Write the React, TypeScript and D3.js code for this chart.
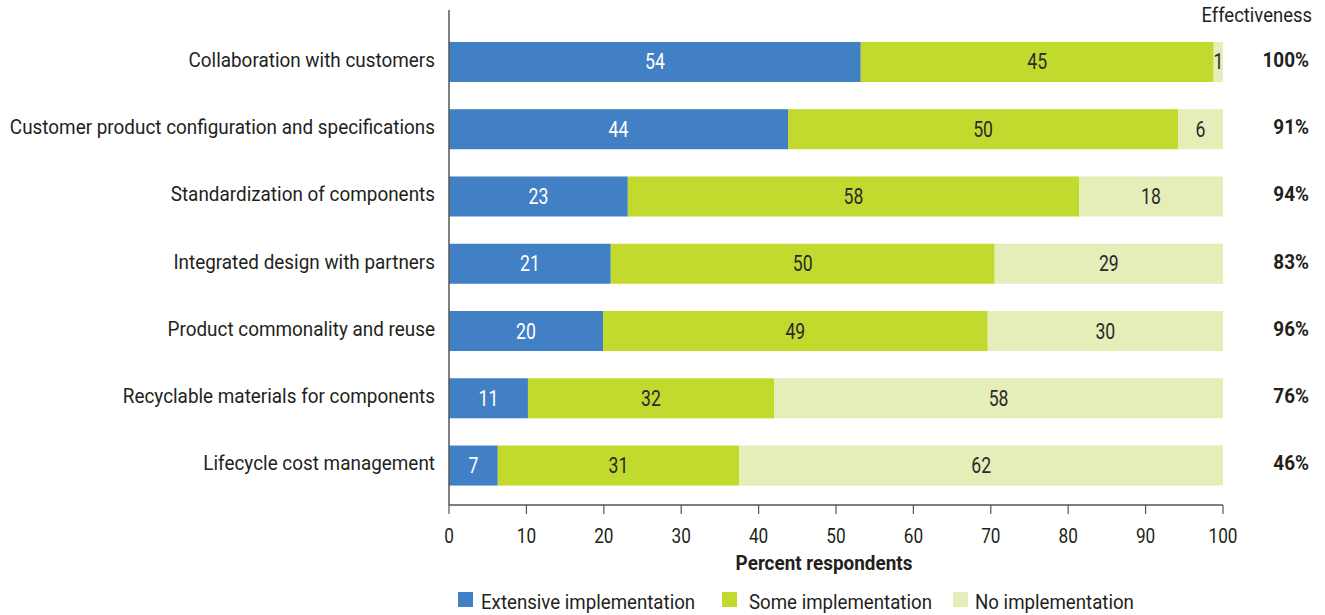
import React from "react";
import * as d3 from "d3";

const categories = [
  "Collaboration with customers",
  "Customer product configuration and specifications",
  "Standardization of components",
  "Integrated design with partners",
  "Product commonality and reuse",
  "Recyclable materials for components",
  "Lifecycle cost management",
];
const extensive = [53.2, 43.8, 23.1, 20.9, 19.9, 10.2, 6.3];
const some = [45.6, 50.4, 58.3, 49.6, 49.7, 31.8, 31.2];
const none = [1.2, 5.8, 18.6, 29.5, 30.4, 58.0, 62.5];
const extensiveLabels = ["54", "44", "23", "21", "20", "11", "7"];
const someLabels = ["45", "50", "58", "50", "49", "32", "31"];
const noneLabels = ["1", "6", "18", "29", "30", "58", "62"];
const effectiveness = ["100%", "91%", "94%", "83%", "96%", "76%", "46%"];
const xTicks = [0, 10, 20, 30, 40, 50, 60, 70, 80, 90, 100];
const seriesNames = ["Extensive implementation", "Some implementation", "No implementation"];

const colors = ["#4180C4", "#C2D92E", "#E5EDB8"];
const textColors = ["#ffffff", "#2a2a2a", "#2a2a2a"];
const FONT = "Roboto, 'Liberation Sans', sans-serif";
const INK = "#231f20";

type TProps = {
  x: number; y: number; sx: number; size: number; anchor?: "start" | "middle" | "end";
  bold?: boolean; fill?: string; children: React.ReactNode;
};
function T({ x, y, sx, size, anchor = "start", bold, fill = INK, children }: TProps) {
  return (
    <text transform={`translate(${x},${y}) scale(${sx},1)`} textAnchor={anchor} fontSize={size}
      fontWeight={bold ? "bold" : "normal"} fill={fill}>{children}</text>
  );
}

export default function App() {
  const W = 1325, H = 615;
  const x = d3.scaleLinear().domain([0, 100]).range([449, 1223]);
  const y = d3.scaleBand<string>().domain(categories).range([28.5, 499]).paddingInner(0.405).paddingOuter(0.2);
  const series = [extensive, some, none];
  const labels = [extensiveLabels, someLabels, noneLabels];
  const rows = categories.map((c, i) => {
    let acc = 0;
    return series.map((s, k) => {
      const x0 = acc;
      acc += s[i];
      return { k, x0, x1: acc, label: labels[k][i] };
    });
  });
  const legendX = [458, 722, 953];
  const legendTextX = [481, 749, 975];
  return (
    <svg width={W} height={H} style={{ position: "absolute", left: 0, top: 0, fontFamily: FONT }}>
      <rect width={W} height={H} fill="#fff" />
      {categories.map((c, i) => {
        const yy = y(c)!;
        const h = y.bandwidth();
        const cy = yy + h / 2;
        return (
          <g key={c}>
            {rows[i].map((seg) => (
              <g key={seg.k}>
                <rect x={x(seg.x0)} y={yy} width={x(seg.x1) - x(seg.x0)} height={h} fill={colors[seg.k]} />
                <T x={(x(seg.x0) + x(seg.x1)) / 2} y={cy + 7.5} sx={0.82} size={21.5} anchor="middle"
                  fill={textColors[seg.k]}>{seg.label}</T>
              </g>
            ))}
            <T x={435} y={cy + 4.8} sx={0.9} size={21} anchor="end">{c}</T>
            <T x={1309} y={cy + 4.8} sx={0.9} size={21} anchor="end" bold>{effectiveness[i]}</T>
          </g>
        );
      })}
      <T x={1312} y={22} sx={0.88} size={21} anchor="end">Effectiveness</T>
      <line x1={449} x2={449} y1={10} y2={505} stroke="#555" strokeWidth={1.5} />
      <line x1={449} x2={1223} y1={505} y2={505} stroke="#555" strokeWidth={1.5} />
      {xTicks.map((t) => (
        <g key={t}>
          <line x1={x(t)} x2={x(t)} y1={505} y2={514} stroke="#555" strokeWidth={1.2} />
          <T x={x(t)} y={543} sx={0.82} size={21} anchor="middle">{t}</T>
        </g>
      ))}
      <T x={824} y={570} sx={0.9} size={21} anchor="middle" bold>Percent respondents</T>
      {seriesNames.map((n, k) => (
        <g key={n}>
          <rect x={legendX[k]} y={592} width={15} height={15} fill={colors[k]} />
          <T x={legendTextX[k]} y={609} sx={0.89} size={21}>{n}</T>
        </g>
      ))}
    </svg>
  );
}
